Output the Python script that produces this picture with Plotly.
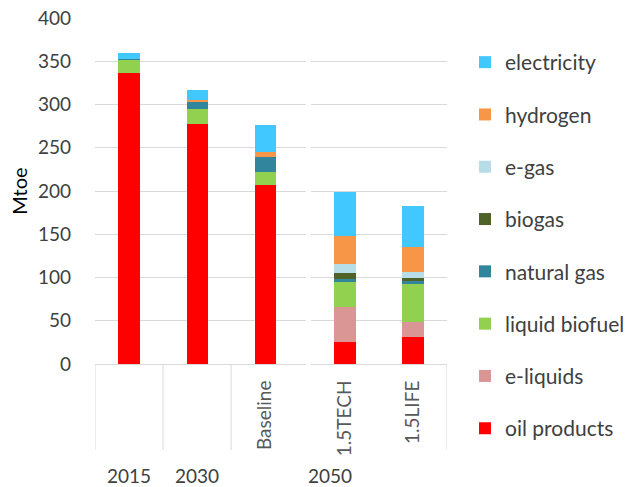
import plotly.graph_objects as go

# ---- data ----
categories_a = ["2015", "2030", "Baseline"]
categories_b = ["1.5TECH", "1.5LIFE"]
tick_text_a = ["", "", "Baseline"]
tick_text_b = ["1.5TECH", "1.5LIFE"]
group_labels = ["2015", "2030", "2050"]

series_names = ["oil products", "e-liquids", "liquid biofuel", "natural gas",
                "biogas", "e-gas", "hydrogen", "electricity"]
series_colors = ["#FF0000", "#D99694", "#92D050", "#31859C",
                 "#4F6228", "#B7DEE8", "#F79646", "#40C8FF"]

# values for [2015, 2030, Baseline, 1.5TECH, 1.5LIFE]  (Mtoe)
oil_products = [336, 277, 207, 25, 31]
e_liquids = [0, 0, 0, 41, 18]
liquid_biofuel = [16, 18, 15, 29, 44]
natural_gas = [1, 9, 17, 3, 3]
biogas = [0, 0, 0, 7, 4]
e_gas = [0, 0, 0, 11, 6]
hydrogen = [0, 1, 6, 32, 29]
electricity = [7, 12, 31, 51, 48]

series_values = [oil_products, e_liquids, liquid_biofuel, natural_gas,
                 biogas, e_gas, hydrogen, electricity]

FONT = "Lato, Calibri, Carlito, sans-serif"
GRID = "#D9D9D9"
TXT = "#404040"

fig = go.Figure()
n = len(series_names)
for i, (name, color, vals) in enumerate(zip(series_names, series_colors, series_values)):
    rank = n - i
    fig.add_trace(go.Bar(x=categories_a, y=vals[:3], name=name, marker_color=color,
                         marker_line_width=0, legendgroup=name, showlegend=True,
                         legendrank=rank, xaxis="x", yaxis="y"))
    fig.add_trace(go.Bar(x=categories_b, y=vals[3:], name=name, marker_color=color,
                         marker_line_width=0, legendgroup=name, showlegend=False,
                         legendrank=rank, xaxis="x2", yaxis="y2"))

W, H = 625, 487
L, R, T, B = 95, 178, 18, 123
pw = W - L - R
ph = H - T - B

def px_to_paper_x(px):
    return (px - L) / pw

def px_to_paper_y(py):
    return (H - B - py) / ph

xdomA = [0, px_to_paper_x(306)]
xdomB = [px_to_paper_x(311), 1]

shapes = []
# category dividers below the axis
for xr, xv in [("x", -0.5), ("x", 0.5), ("x", 1.5), ("x2", 1.5)]:
    shapes.append(dict(type="line", xref=xr, yref="paper", x0=xv, x1=xv,
                       y0=0, y1=px_to_paper_y(450),
                       line=dict(color=GRID, width=1)))

annotations = []
for xr, xv, txt in [("x", 0, group_labels[0]), ("x", 1, group_labels[1]),
                    ("x2", -0.22, group_labels[2])]:
    annotations.append(dict(xref=xr, yref="paper", x=xv, y=px_to_paper_y(475),
                            xanchor="center", yanchor="middle",
                            text=txt, showarrow=False,
                            font=dict(family=FONT, size=19, color=TXT)))

xtickfont = dict(family=FONT, size=19, color="#595959")

fig.update_layout(
    width=W, height=H,
    margin=dict(l=L, r=R, t=T, b=B, autoexpand=False),
    paper_bgcolor="white", plot_bgcolor="white",
    barmode="stack", bargap=0.69,
    font=dict(family=FONT, color=TXT),
    xaxis=dict(domain=xdomA, range=[-0.5, 2.6], type="category",
               tickmode="array", tickvals=categories_a, ticktext=tick_text_a,
               tickangle=-90, showline=True, linecolor=GRID, linewidth=1,
               showgrid=False, ticks="", ticklabelstandoff=8, automargin=False,
               tickfont=xtickfont),
    xaxis2=dict(domain=xdomB, range=[-0.5, 1.5], type="category",
                tickmode="array", tickvals=categories_b, ticktext=tick_text_b,
                tickangle=-90, showline=True, linecolor=GRID, linewidth=1,
                showgrid=False, ticks="", ticklabelstandoff=8, automargin=False,
                tickfont=xtickfont, anchor="y2"),
    yaxis=dict(range=[0, 400], dtick=50, showgrid=True, gridcolor=GRID,
               gridwidth=1, zeroline=False, showline=False, ticks="",
               ticklabelstandoff=23, automargin=False,
               tickfont=dict(family=FONT, size=19, color=TXT),
               title=dict(text="Mtoe", font=dict(family=FONT, size=20, color="#000000"),
                          standoff=4)),
    yaxis2=dict(range=[0, 400], dtick=50, showgrid=True, gridcolor=GRID,
                gridwidth=1, zeroline=False, showline=False, ticks="",
                showticklabels=False, anchor="x2", matches="y", automargin=False),
    legend=dict(x=px_to_paper_x(465), xanchor="left", y=px_to_paper_y(42), yanchor="top",
                traceorder="grouped", tracegroupgap=22, maxheight=440,
                font=dict(family=FONT, size=21, color=TXT),
                bgcolor="rgba(0,0,0,0)", borderwidth=0),
    shapes=shapes,
    annotations=annotations,
    showlegend=True,
)

fig.write_html("out.html", config={"displayModeBar": False},
               post_script="document.body.style.margin='0px';document.body.style.overflow='hidden';")
